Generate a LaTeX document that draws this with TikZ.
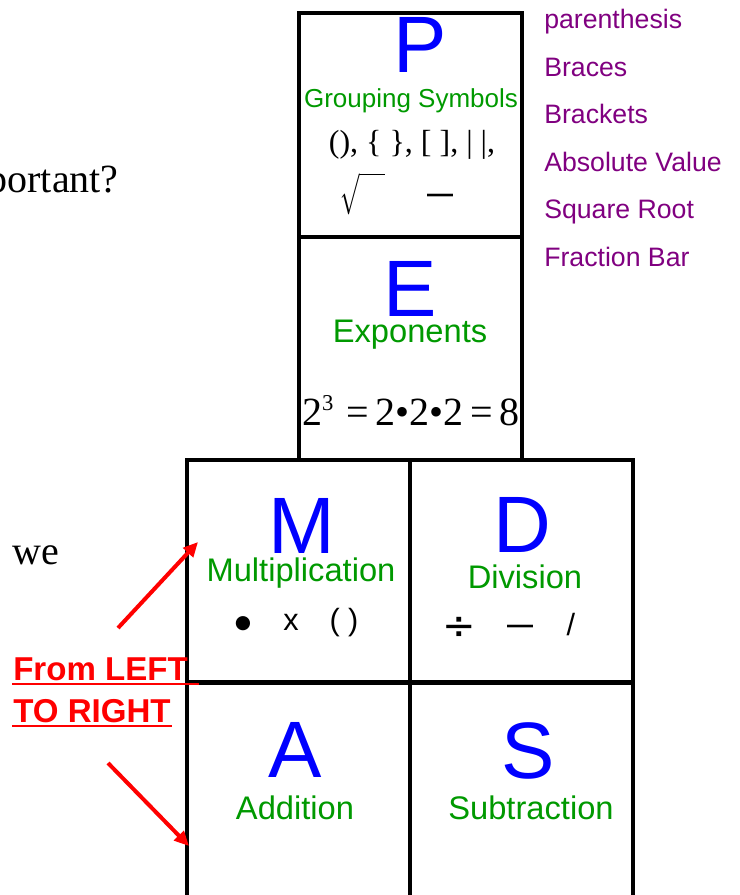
\documentclass[tikz,border=0pt]{standalone}
\usepackage{fontspec}
\setmainfont{Liberation Serif}
\setsansfont{Liberation Sans}
\newfontfamily\symfont{DejaVu Sans}
\usepackage{graphicx}
\usepackage{tikz}
\usetikzlibrary{arrows.meta}
\definecolor{opgreen}{RGB}{0,153,0}
\definecolor{listpurple}{RGB}{128,0,128}
\newcommand{\fs}[1]{\fontsize{#1}{#1}\selectfont}

\begin{document}
\begin{tikzpicture}[
    x=0.75pt, y=-0.75pt,
    cell/.style={draw, line width=3pt, minimum width=167.25pt,
                 minimum height=167.25pt, inner sep=0pt},
    oplet/.style={text=blue, font=\sffamily\fs{60}, inner sep=0pt, anchor=base},
    opname/.style={text=opgreen, font=\sffamily\fs{24.5}, inner sep=0pt, anchor=base},
    serifsym/.style={font=\fs{24}, inner sep=0pt, anchor=base},
    sanssym/.style={font=\sffamily\fs{23}, inner sep=0pt, anchor=base},
    grouplabel/.style={text=listpurple, font=\sffamily\fs{20}, inner sep=0pt, anchor=base west},
    leftnote/.style={font=\fs{30}, inner sep=0pt},
    rednote/.style={text=red, font=\sffamily\bfseries\fs{24.8}, inner sep=0pt, anchor=base west},
  ]
\tikzset{redarrow/.style={draw=red, line width=3pt, -{Triangle[length=11pt, width=10pt]}}}
  \useasboundingbox (0,0) rectangle (739,895);

  % the six cells
  \node[cell] (pbox) at (410,125)     {};
  \node[cell] (ebox) at (410,348.5)   {};
  \node[cell] (mbox) at (298.5,571)   {};
  \node[cell] (dbox) at (521,571)     {};
  \node[cell] (abox) at (298.5,793.5) {};
  \node[cell] (sbox) at (521,793.5)   {};

  % big letters
  \node[oplet] (plet) at (420,73)  {P};
  \node[oplet] (elet) at (410,316) {E};
  \node[oplet] (mlet) at (302,553) {M};
  \node[oplet] (dlet) at (522,552) {D};
  \node[oplet] (alet) at (295,777) {A};
  \node[oplet] (slet) at (528,778) {S};

  % names
  \node[opname, font=\sffamily\fs{19.5}] (pname) at (411,108) {Grouping Symbols};
  \node[opname] (ename) at (410,342) {Exponents};
  \node[opname] (mname) at (301,581) {Multiplication};
  \node[opname] (dname) at (525,588) {Division};
  \node[opname] (aname) at (295,819) {Addition};
  \node[opname] (sname) at (531,819) {Subtraction};

  % symbols
  \node[serifsym] (brackets) at (412,152) {(), \{ \}, [ ], | |,};
  \node[serifsym, anchor=center] (root) at (362.5,193.5)
    {\resizebox*{33.75pt}{32pt}{$\sqrt{\hphantom{xx}}$}};
  \node[sanssym, font=\sffamily\bfseries\fs{19.5}] (fbar) at (440,202) {—};
  \node[serifsym, font=\fs{30}] (expo) at (411,425)
    {2\raisebox{11pt}{\fs{17}3}\,\,=\,2•2•2\,=\,8};
  \node[sanssym, font=\symfont\fs{14}] (dot) at (243,628) {●};
  \node[sanssym] (cross) at (291,630) {x};
  \node[sanssym] (paren) at (344,630) {( )};
  \node[sanssym, font=\symfont\fs{30}] (divide) at (459,639) {÷};
  \node[sanssym, font=\sffamily\bfseries\fs{19.5}] (dbar) at (520,633) {—};
  \node[sanssym] (slash) at (571,635) {/};

  % list on the right
  \foreach \txt [count=\i from 0] in {parenthesis, Braces, Brackets,
      Absolute Value, Square Root, Fraction Bar}
    \node[grouplabel] (grp\i) at (544,29+47.4*\i) {\txt};

  % text on the left
  \node[leftnote, anchor=base east] (imp) at (119,192) {portant?};
  \node[leftnote, anchor=base west] (we) at (12,564) {we};

  % left to right note
  \node[rednote] (ltr1) at (13,680) {From LEFT};
  \node[rednote] (ltr2) at (13,722) {TO RIGHT};
  \draw[red, line width=1.5pt] (12,684) -- (199,684);
  \draw[red, line width=1.5pt] (12,726) -- (172,726);

  \coordinate (up1) at (118,628);
  \coordinate (up2) at (198,542);
  \coordinate (dn1) at (108,763);
  \coordinate (dn2) at (189,846);
  \draw[redarrow] (up1) -- (up2);
  \draw[redarrow] (dn1) -- (dn2);
\end{tikzpicture}
\end{document}
